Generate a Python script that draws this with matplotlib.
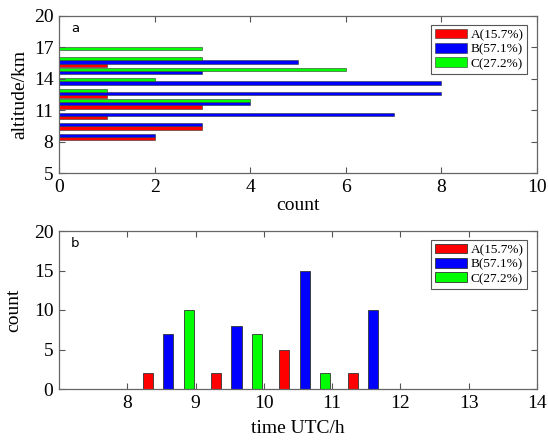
import numpy as np
import matplotlib.pyplot as plt

plt.rcParams['font.family'] = 'Liberation Serif'

labels = ['A(15.7%)', 'B(57.1%)', 'C(27.2%)']
colors = ['#ff0000', '#0000ff', '#00ff00']

# (a) counts per 1 km altitude bin, bins start at 8..16 km
alt_bins = np.arange(8, 17)
alt_a = [2, 3, 1, 3, 1, 0, 0, 1, 0]
alt_b = [2, 3, 7, 4, 8, 8, 3, 5, 0]
alt_c = [0, 0, 0, 4, 1, 2, 6, 3, 3]

# (b) counts per hour, bins start at 8..11 UTC
hours = np.arange(8, 12)
time_a = [2, 2, 5, 2]
time_b = [7, 8, 15, 10]
time_c = [10, 7, 2, 0]

offsets = [0.3, 0.6, 0.9]

fig = plt.figure(figsize=(5.48, 4.43), dpi=100)
W, H = 548.0, 443.0
ax1 = fig.add_axes([59 / W, 1 - 173 / H, 478 / W, 157 / H])
ax2 = fig.add_axes([59 / W, 1 - 389 / H, 478 / W, 158 / H])


def style_axis(ax):
    ax.tick_params(direction='in', top=True, right=True, length=4,
                   width=0.8, color='#555555', labelsize=14, pad=4)
    for s in ax.spines.values():
        s.set_color('#666666')
        s.set_linewidth(0.9)


def add_legend(ax):
    leg = ax.legend(loc='upper right', bbox_to_anchor=(0.98, 0.945),
                    borderaxespad=0, fancybox=False, fontsize=9.5,
                    handlelength=2.4, handleheight=0.75, handletextpad=0.3,
                    labelspacing=0.15, borderpad=0.3, framealpha=1)
    leg.get_frame().set_edgecolor('#555555')
    leg.get_frame().set_linewidth(0.8)


# top: horizontal bars by altitude
for vals, off, c, lab in zip([alt_a, alt_b, alt_c], offsets, colors, labels):
    ax1.barh(alt_bins + off, vals, height=0.3, color=c, edgecolor='#333333',
             linewidth=0.4, label=lab)
ax1.set_xlim(0, 10)
ax1.set_ylim(5, 20)
ax1.set_xticks(np.arange(0, 11, 2))
ax1.set_yticks([5, 8, 11, 14, 17, 20])
ax1.set_xlabel('count', fontsize=14, labelpad=1)
ax1.set_ylabel('altitude/km', fontsize=14, labelpad=4)
ax1.text(0.025, 0.92, 'a', transform=ax1.transAxes, family='DejaVu Sans',
         fontsize=9.5, va='center')
style_axis(ax1)
add_legend(ax1)

# bottom: vertical bars by time of day
for vals, off, c, lab in zip([time_a, time_b, time_c], offsets, colors, labels):
    ax2.bar(hours + off, vals, width=0.15, color=c, edgecolor='#333333',
            linewidth=0.6, label=lab)
ax2.set_xlim(7, 14)
ax2.set_ylim(0, 20)
ax2.set_xticks(np.arange(8, 15))
ax2.set_yticks(np.arange(0, 21, 5))
ax2.set_xlabel('time UTC/h', fontsize=14, labelpad=6)
ax2.set_ylabel('count', fontsize=14, labelpad=8)
ax2.text(0.025, 0.92, 'b', transform=ax2.transAxes, family='DejaVu Sans',
         fontsize=9.5, va='center')
style_axis(ax2)
add_legend(ax2)

fig.savefig('out.png', dpi=100)
